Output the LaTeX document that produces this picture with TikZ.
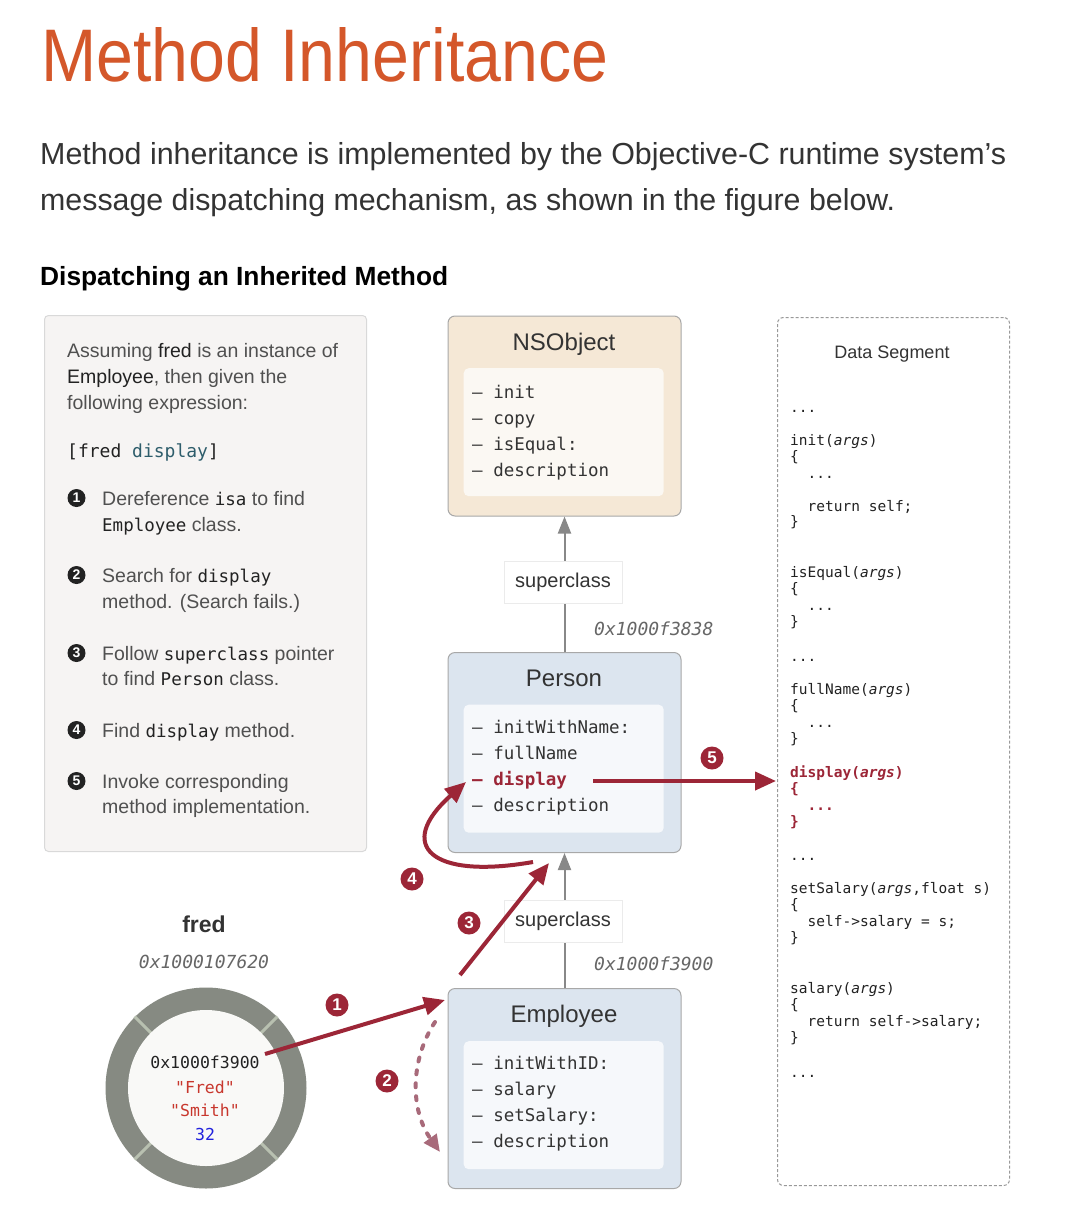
\documentclass[tikz,border=0pt]{standalone}
\usepackage{graphicx}
\usepackage{fontspec}
\setmainfont{Liberation Sans}
\setsansfont{Liberation Sans}
\setmonofont{DejaVu Sans Mono}
\usetikzlibrary{arrows.meta}
\definecolor{titleor}{HTML}{D4572A}
\definecolor{bodyc}{HTML}{333333}
\definecolor{ptext}{HTML}{505050}
\definecolor{pdark}{HTML}{222222}
\definecolor{panelbg}{HTML}{F6F4F3}
\definecolor{panelbd}{HTML}{D9D9D9}
\definecolor{tanbg}{HTML}{F5E8D6}
\definecolor{bluebg}{HTML}{DCE5EF}
\definecolor{boxbd}{HTML}{A8A8A8}
\definecolor{innertan}{HTML}{FBF8F3}
\definecolor{innerblue}{HTML}{F6F8FB}
\definecolor{crim}{HTML}{9C2637}
\definecolor{pinkc}{HTML}{A86A7A}
\definecolor{tealc}{HTML}{2E5D6B}
\definecolor{ringc}{HTML}{868A82}
\definecolor{tickc}{HTML}{B8C0B0}
\definecolor{corec}{HTML}{F9F9F7}
\definecolor{addrc}{HTML}{666666}
\definecolor{supc}{HTML}{888888}
\definecolor{dsc}{HTML}{999999}
\definecolor{strc}{HTML}{C8372D}
\definecolor{numc}{HTML}{2222DD}
\newcommand{\fsz}[1]{\fontsize{#1}{#1}\selectfont}
\newcommand{\dk}[1]{\textcolor{pdark}{#1}}
\newcommand{\cd}[1]{\textcolor{pdark}{\ttfamily\fsz{17.5}#1}}
\newcommand{\ind}{\hspace*{17.5pt}}
\begin{document}
\begin{tikzpicture}[x=1pt,y=-1pt,
  ptxt/.style={anchor=base west, inner sep=0pt, text=ptext, font=\fsz{19.5}},
  blackn/.style={circle, fill=pdark, text=white, minimum size=18, inner sep=0pt, font=\bfseries\fsz{14}},
  rednum/.style={circle, fill=crim, text=white, minimum size=23, inner sep=0pt, font=\bfseries\fsz{17}},
  classbox/.style={draw=boxbd, line width=1pt, rounded corners=7pt, minimum width=233, minimum height=200, anchor=north west, inner sep=0pt},
  innerbox/.style={rounded corners=5pt, minimum width=200, minimum height=128, anchor=north west, inner sep=0pt},
  ctitle/.style={anchor=base, inner sep=0pt, text=bodyc, font=\fsz{24}},
  mlist/.style={anchor=base west, inner sep=0pt, text=bodyc, font=\ttfamily\fsz{17.5}},
  supa/.style={draw=supc, line width=2pt, -{Triangle[length=17pt,width=13pt]}},
  suplbl/.style={fill=white, draw=black!8, minimum width=118, minimum height=42, inner sep=0pt, text=bodyc, font=\fsz{20}},
  addr/.style={inner sep=0pt, text=addrc, font=\ttfamily\itshape\fsz{18}},
  code/.style={anchor=base west, inner sep=0pt, text=pdark, font=\ttfamily\fsz{14.5}},
  redarr/.style={draw=crim, line width=4pt, -{Triangle[length=21pt,width=18pt]}},
  reddot/.style={draw=pinkc, line width=4pt, dash pattern=on 4pt off 9pt, line cap=round, -{Triangle[length=17pt,width=15pt]}}
]
\useasboundingbox[fill=white] (0,0) rectangle (1076,1220);

% ---------- header ----------
\node[anchor=base west, inner sep=0pt, text=titleor] (title) at (41,82)
  {\resizebox{567pt}{54pt}{\fsz{60}Method Inheritance}};
\node[anchor=base west, inner sep=0pt, text=bodyc] (body1) at (40,164)
  {\resizebox{966pt}{!}{\fsz{30}Method inheritance is implemented by the Objective-C runtime system's}};
\node[anchor=base west, inner sep=0pt, text=bodyc] (body2) at (40,210)
  {\resizebox{855pt}{!}{\fsz{30}message dispatching mechanism, as shown in the figure below.}};
\node[anchor=base west, inner sep=0pt, text=black] (head) at (40,285)
  {\resizebox{408pt}{!}{\fsz{25}\bfseries Dispatching an Inherited Method}};

% ---------- left panel ----------
\node[draw=panelbd, fill=panelbg, rounded corners=4pt, line width=1pt, minimum width=322, minimum height=536, anchor=north west, inner sep=0pt] (panel) at (44,315) {};
\node[ptxt] (p1) at (67,357) {Assuming \dk{fred} is an instance of};
\node[ptxt] (p2) at (67,383) {\dk{Employee}, then given the};
\node[ptxt] (p3) at (67,409) {following expression:};
\node[ptxt] (p4) at (67,457) {\textcolor{pdark}{\ttfamily\fsz{18}[fred \textcolor{tealc}{display}]}};
\node[blackn] (b1) at (76.5,498) {1};
\node[ptxt] (i1a) at (102,505) {Dereference \cd{isa} to find};
\node[ptxt] (i1b) at (102,531) {\cd{Employee} class.};
\node[blackn] (b2) at (76.5,575) {2};
\node[ptxt] (i2a) at (102,582) {Search for \cd{display}};
\node[ptxt] (i2b) at (102,608) {method. (Search fails.)};
\node[blackn] (b3) at (76.5,653) {3};
\node[ptxt] (i3a) at (102,660) {Follow \cd{superclass} pointer};
\node[ptxt] (i3b) at (102,685) {to find \cd{Person} class.};
\node[blackn] (b4) at (76.5,730) {4};
\node[ptxt] (i4a) at (102,737) {Find \cd{display} method.};
\node[blackn] (b5) at (76.5,781) {5};
\node[ptxt] (i5a) at (102,788) {Invoke corresponding};
\node[ptxt] (i5b) at (102,813) {method implementation.};

% ---------- class boxes ----------
\node[classbox, fill=tanbg] (nsobj) at (447.5,315.5) {};
\node[innerbox, fill=innertan] (nsobjin) at (463.5,368) {};
\node[ctitle] (nsobjt) at (564,350) {NSObject};
\node[mlist] (ns1) at (472,398) {– init};
\node[mlist] (ns2) at (472,424) {– copy};
\node[mlist] (ns3) at (472,450) {– isEqual:};
\node[mlist] (ns4) at (472,476) {– description};

\node[classbox, fill=bluebg] (person) at (447.5,652) {};
\node[innerbox, fill=innerblue] (personin) at (463.5,704.5) {};
\node[ctitle] (persont) at (564,686) {Person};
\node[mlist] (pe1) at (472,733) {– initWithName:};
\node[mlist] (pe2) at (472,759) {– fullName};
\node[mlist, text=crim, font=\ttfamily\bfseries\fsz{17.5}] (pe3) at (472,785) {– display};
\node[mlist] (pe4) at (472,811) {– description};

\node[classbox, fill=bluebg] (emp) at (447.5,988) {};
\node[innerbox, fill=innerblue] (empin) at (463.5,1041) {};
\node[ctitle] (empt) at (564,1022) {Employee};
\node[mlist] (em1) at (472,1069) {– initWithID:};
\node[mlist] (em2) at (472,1095) {– salary};
\node[mlist] (em3) at (472,1121) {– setSalary:};
\node[mlist] (em4) at (472,1147) {– description};

% ---------- superclass links ----------
\draw[supa] (person.north) -- (nsobj.south);
\node[suplbl] (sup1) at (563,582) {superclass};
\node[addr, anchor=base west] (addr1) at (594,635) {0x1000f3838};
\draw[supa] (emp.north) -- (person.south);
\node[suplbl] (sup2) at (563,921) {superclass};
\node[addr, anchor=base west] (addr2) at (594,970) {0x1000f3900};

% ---------- data segment ----------
\node[draw=dsc, dash pattern=on 3pt off 2pt, rounded corners=6pt, line width=1pt, minimum width=232, minimum height=868, anchor=north west, inner sep=0pt] (ds) at (777,317) {};
\node[anchor=base, inner sep=0pt, text=bodyc, font=\fsz{18}] (dst) at (892,358) {Data Segment};
\node[code] (c1) at (790,412) {...};
\node[code] (c2) at (790,445) {init(\textit{args})};
\node[code] (c3) at (790,461) {\{};
\node[code] (c4) at (790,478) {\ind...};
\node[code] (c5) at (790,511) {\ind return self;};
\node[code] (c6) at (790,526) {\}};
\node[code] (c7) at (790,577) {isEqual(\textit{args})};
\node[code] (c8) at (790,593) {\{};
\node[code] (c9) at (790,610) {\ind...};
\node[code] (c10) at (790,626) {\}};
\node[code] (c11) at (790,661) {...};
\node[code] (c12) at (790,694) {fullName(\textit{args})};
\node[code] (c13) at (790,710) {\{};
\node[code] (c14) at (790,727) {\ind...};
\node[code] (c15) at (790,743) {\}};
\node[code, text=crim, font=\ttfamily\bfseries\fsz{14.5}] (c16) at (790,777) {display(\textit{args})};
\node[code, text=crim, font=\ttfamily\bfseries\fsz{14.5}] (c17) at (790,793) {\{};
\node[code, text=crim, font=\ttfamily\bfseries\fsz{14.5}] (c18) at (790,810) {\ind...};
\node[code, text=crim, font=\ttfamily\bfseries\fsz{14.5}] (c19) at (790,826) {\}};
\node[code] (c20) at (790,860) {...};
\node[code] (c21) at (790,893) {setSalary(\textit{args},float s)};
\node[code] (c22) at (790,909) {\{};
\node[code] (c23) at (790,926) {\ind self->salary = s;};
\node[code] (c24) at (790,942) {\}};
\node[code] (c25) at (790,993) {salary(\textit{args})};
\node[code] (c26) at (790,1009) {\{};
\node[code] (c27) at (790,1026) {\ind return self->salary;};
\node[code] (c28) at (790,1042) {\}};
\node[code] (c29) at (790,1077) {...};

% ---------- fred object ----------
\node[anchor=base, inner sep=0pt, text=bodyc, font=\bfseries\fsz{23}] (fredlbl) at (204,932) {fred};
\node[addr, anchor=base] (fredaddr) at (204,968) {0x1000107620};
\node[circle, fill=ringc, minimum size=201, inner sep=0pt] (ring) at (206,1088) {};
\foreach \a in {45,135,225,315}
  \draw[tickc, line width=3pt] (ring.center) ++(\a:76) -- ++(\a:25);
\node[circle, fill=corec, minimum size=156, inner sep=0pt] (core) at (206,1088) {};
\node[anchor=base, inner sep=0pt, text=pdark, font=\ttfamily\fsz{16.5}] (isa) at (205,1068) {0x1000f3900};
\node[anchor=base, inner sep=0pt, text=strc, font=\ttfamily\fsz{16.5}] (fname) at (205,1093) {"Fred"};
\node[anchor=base, inner sep=0pt, text=strc, font=\ttfamily\fsz{16.5}] (lname) at (205,1116) {"Smith"};
\node[anchor=base, inner sep=0pt, text=numc, font=\ttfamily\fsz{16.5}] (age) at (205,1140) {32};

% ---------- dispatch arrows ----------
\coordinate (a1s) at (265,1054);
\coordinate (a1e) at (445,1000);
\draw[redarr] (a1s) -- (a1e);
\coordinate (a2s) at (435,1022);
\coordinate (a2e) at (440,1152);
\draw[reddot] (a2s) .. controls (410,1060) and (410,1110) .. (a2e);
\coordinate (a3s) at (460,975);
\coordinate (a3e) at (549,863);
\draw[redarr] (a3s) -- (a3e);
\coordinate (a4s) at (533,862);
\coordinate (a4e) at (466,782);
\draw[redarr] (a4s) .. controls (430,880) and (395,845) .. (a4e);
\coordinate (a5s) at (593,781);
\coordinate (a5e) at (776,781);
\draw[redarr] (a5s) -- (a5e);

\node[rednum] (n1) at (337,1005) {1};
\node[rednum] (n2) at (387,1081) {2};
\node[rednum] (n3) at (469,923) {3};
\node[rednum] (n4) at (412,879) {4};
\node[rednum] (n5) at (712,758) {5};
\end{tikzpicture}
\end{document}
